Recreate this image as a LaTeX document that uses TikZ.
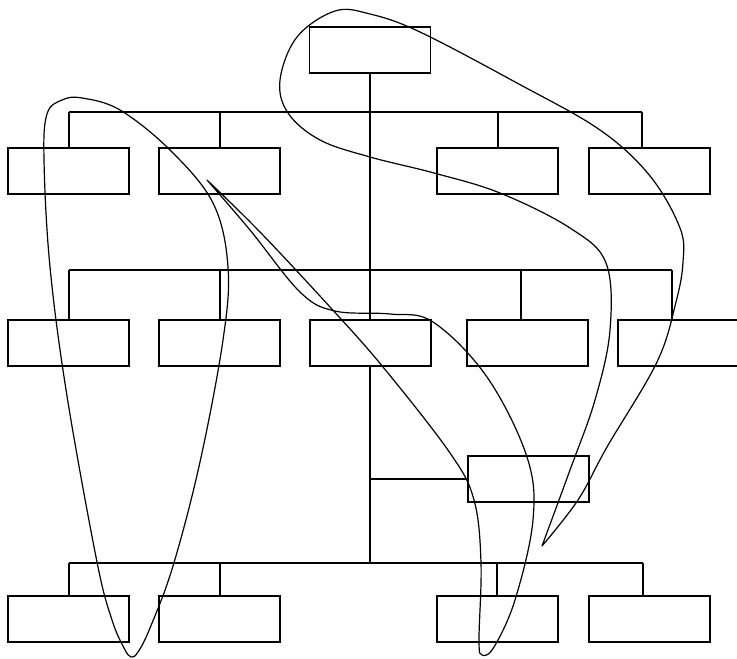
\documentclass[tikz,border=0pt]{standalone}
\begin{document}
\begin{tikzpicture}[x=1pt,y=-1pt,
  box/.style={draw,rectangle,inner sep=0pt,minimum width=121pt,minimum height=46pt,line width=1.4pt},
  conn/.style={line width=1.4pt},
  loopline/.style={line width=1.2pt,line join=round,line cap=round}]
\useasboundingbox[fill=white] (0,0) rectangle (737,659);
% boxes
\node[box] (top) at (370,50) {};
\node[box] (r1a) at (68.5,171) {};
\node[box] (r1b) at (219.5,171) {};
\node[box] (r1c) at (497.5,171) {};
\node[box] (r1d) at (649.5,171) {};
\node[box] (r2a) at (68.5,343) {};
\node[box] (r2b) at (219.5,343) {};
\node[box] (r2c) at (370.5,343) {};
\node[box] (r2d) at (527.5,343) {};
\node[box,minimum width=126pt] (r2e) at (681,343) {};
\node[box] (mid) at (528.5,479) {};
\node[box] (r3a) at (68.5,619) {};
\node[box] (r3b) at (219.5,619) {};
\node[box] (r3c) at (497.5,619) {};
\node[box] (r3d) at (649.5,619) {};
% bus coordinates
\coordinate (b1a) at (69,112); \coordinate (b1b) at (220,112);
\coordinate (b1c) at (498,112); \coordinate (b1d) at (642,112);
\coordinate (b2a) at (69,270); \coordinate (b2b) at (220,270);
\coordinate (b2c) at (521,270); \coordinate (b2d) at (672,270);
\coordinate (b3a) at (69,563); \coordinate (b3b) at (220,563);
\coordinate (b3c) at (497,563); \coordinate (b3d) at (643,563);
\coordinate (br) at (370,479);
% trunk
\draw[conn] (top.south) -- (top.south |- r2c.north);
\draw[conn] (top.south |- r2c.south) -- (top.south |- b3a);
\draw[conn] (br) -- (br -| mid.west);
% bus 1
\draw[conn] (b1a) -- (b1d);
\draw[conn] (b1a) -- (b1a |- r1a.north);
\draw[conn] (b1b) -- (b1b |- r1b.north);
\draw[conn] (b1c) -- (b1c |- r1c.north);
\draw[conn] (b1d) -- (b1d |- r1d.north);
% bus 2
\draw[conn] (b2a) -- (b2d);
\draw[conn] (b2a) -- (b2a |- r2a.north);
\draw[conn] (b2b) -- (b2b |- r2b.north);
\draw[conn] (b2c) -- (b2c |- r2d.north);
\draw[conn] (b2d) -- (b2d |- r2e.north);
% bus 3
\draw[conn] (b3a) -- (b3d);
\draw[conn] (b3a) -- (b3a |- r3a.north);
\draw[conn] (b3b) -- (b3b |- r3b.north);
\draw[conn] (b3c) -- (b3c |- r3c.north);
\draw[conn] (b3d) -- (b3d |- r3d.north);
% loop A (left)
\draw[loopline] plot[smooth cycle,tension=0.6] coordinates {
 (82,98) (120,110) (170,150) (213,203) (228,267) (223,340) (200,462)
 (173,566) (150,628) (138,652) (131,657) (124,648) (112,620) (97,562)
 (67,396) (50,267) (44,160) (47,114) (62,100)};
% loop B (middle)
\draw[loopline] plot[smooth,tension=0.6] coordinates {
 (207,180) (250,230) (300,292) (335,311) (390,314) (433,322) (487,377)
 (527,457) (533,520) (515,600) (494,647) (482,655) (479,640) (481,563)
 (474,500) (450,453) (383,367) (330,307) (260,232) (207,180)};
% loop C (right)
\draw[loopline] plot[smooth,tension=0.6] coordinates {
 (542,546) (570,470) (595,400) (610,330) (606,263) (570,228) (500,193)
 (434,173) (370,157) (320,140) (288,113) (280,80) (297,37) (335,11)
 (370,14) (420,32) (517,83) (600,130) (650,176) (680,228) (683,262)
 (676,302) (657,362) (607,447) (578,500) (542,546)};
\end{tikzpicture}
\end{document}
